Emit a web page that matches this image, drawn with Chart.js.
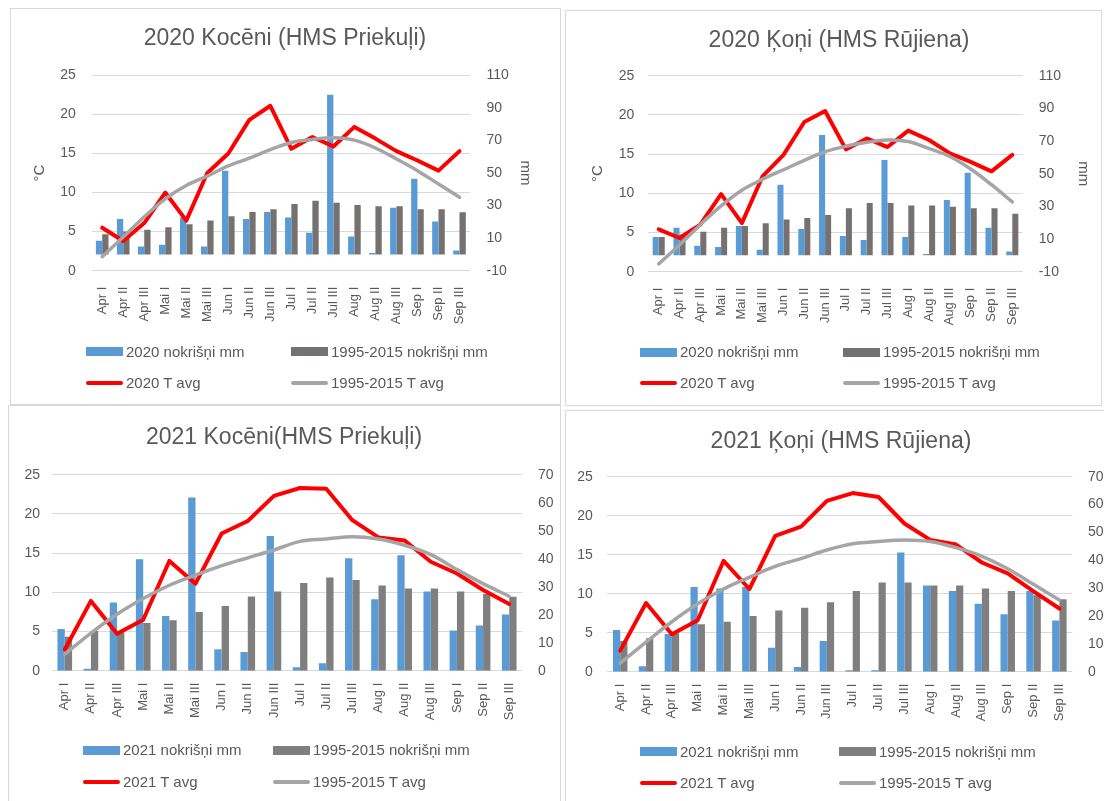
<!DOCTYPE html>
<html>
<head>
<meta charset="utf-8">
<script src="https://cdn.jsdelivr.net/npm/chart.js@4.4.1/dist/chart.umd.min.js"></script>
<style>
  body { margin: 0; width: 1104px; height: 801px; background: #fff; position: relative; overflow: hidden; font-family: "Liberation Sans", Arial, sans-serif; }
  .frame { position: absolute; border: 1px solid #d9d9d9; box-sizing: border-box; }
  canvas { position: absolute; }
  .lg { position: absolute; font-size: 15px; color: #595959; white-space: nowrap; line-height: 18px; }
  .sw { position: absolute; }
</style>
</head>
<body>
<div class="frame" style="left:10px;top:8px;width:551px;height:397px"></div>
<div class="frame" style="left:565px;top:10px;width:537px;height:396px"></div>
<div class="frame" style="left:8px;top:405px;width:553px;height:400px"></div>
<div class="frame" style="left:565px;top:410px;width:545px;height:395px"></div>
<canvas id="c1" width="550" height="396" style="left:10px;top:8px"></canvas>
<canvas id="c2" width="535" height="395" style="left:565px;top:10px"></canvas>
<canvas id="c3" width="552" height="396" style="left:8px;top:405px"></canvas>
<canvas id="c4" width="539" height="391" style="left:565px;top:410px"></canvas>
<div id="legends"></div>
<script>
// dekādes
const decades = ['Apr I', 'Apr II', 'Apr III', 'Mai I', 'Mai II', 'Mai III', 'Jun I', 'Jun II', 'Jun III',
                 'Jul I', 'Jul II', 'Jul III', 'Aug I', 'Aug II', 'Aug III', 'Sep I', 'Sep II', 'Sep III'];

const tempTicks = [0, 5, 10, 15, 20, 25];
const mmTicks2020 = [-10, 10, 30, 50, 70, 90, 110];
const mmTicks2021 = [0, 10, 20, 30, 40, 50, 60, 70];

// 2020 Kocēni (HMS Priekuļi)
const rainKoceni2020 = [8.4, 21.8, 4.9, 5.9, 22.7, 4.9, 51.4, 21.8, 26.1, 22.7, 13.3, 98.0, 11.0, 0.8, 28.6, 46.5, 20.2, 2.4];
const rainNormKoceni2020 = [12.4, 14.0, 15.1, 16.7, 18.6, 20.8, 23.5, 26.1, 27.8, 31.0, 32.9, 31.8, 30.4, 29.6, 29.6, 27.8, 27.8, 25.9];
const tempKoceni2020 = [5.5, 3.8, 6.1, 10.0, 6.4, 12.5, 15.0, 19.3, 21.1, 15.6, 17.1, 15.9, 18.4, 16.9, 15.3, 14.1, 12.8, 15.3];
const tempNormKoceni2020 = [1.8, 4.3, 6.9, 9.2, 10.9, 12.1, 13.4, 14.4, 15.5, 16.4, 16.8, 17.0, 16.7, 15.7, 14.3, 12.8, 11.1, 9.4];

// 2020 Ķoņi (HMS Rūjiena)
const rainKoni2020 = [11.2, 16.9, 5.9, 5.1, 18.0, 3.5, 43.3, 16.1, 73.7, 11.8, 9.4, 58.4, 11.2, 0.8, 33.9, 50.6, 16.9, 2.4];
const rainNormKoni2020 = [11.2, 12.8, 14.5, 16.9, 18.0, 19.6, 22.0, 22.9, 24.7, 28.8, 32.0, 32.0, 30.6, 30.6, 29.8, 28.8, 28.8, 25.5];
const tempKoni2020 = [5.4, 4.3, 6.0, 9.9, 6.2, 12.2, 14.9, 19.1, 20.5, 15.6, 17.0, 15.9, 18.0, 16.8, 15.1, 14.0, 12.8, 14.9];
const tempNormKoni2020 = [1.0, 3.4, 6.0, 8.4, 10.4, 11.8, 13.0, 14.2, 15.3, 16.0, 16.5, 16.8, 16.6, 15.7, 14.7, 13.1, 11.1, 8.9];

// 2021 Kocēni (HMS Priekuļi)
const rainKoceni2021 = [14.9, 0.7, 24.4, 39.8, 19.5, 61.9, 7.7, 6.7, 48.1, 1.2, 2.7, 40.2, 25.5, 41.2, 28.3, 14.4, 16.1, 20.1];
const rainNormKoceni2021 = [12.1, 14.2, 13.6, 17.0, 18.0, 21.0, 23.1, 26.5, 28.3, 31.3, 33.3, 32.4, 30.4, 29.4, 29.4, 28.3, 27.4, 26.4];
const tempKoceni2021 = [2.7, 8.9, 4.7, 6.5, 14.0, 11.1, 17.5, 19.1, 22.3, 23.3, 23.2, 19.2, 17.0, 16.6, 13.9, 12.4, 10.3, 8.5];
const tempNormKoceni2021 = [2.1, 4.8, 7.2, 9.2, 10.9, 12.2, 13.4, 14.4, 15.4, 16.5, 16.8, 17.1, 16.8, 16.0, 14.8, 12.9, 11.1, 9.5];

// 2021 Ķoņi (HMS Rūjiena)
const rainKoni2021 = [15.0, 2.0, 13.5, 30.4, 29.9, 30.4, 8.6, 1.7, 11.0, 0.5, 0.5, 42.8, 30.9, 29.0, 24.4, 20.6, 29.0, 18.4];
const rainNormKoni2021 = [11.0, 12.0, 13.8, 17.0, 17.9, 20.0, 22.0, 23.0, 24.9, 29.0, 32.0, 32.0, 30.9, 30.9, 29.9, 29.0, 27.4, 26.0];
const tempKoni2021 = [2.7, 8.8, 4.8, 6.6, 14.2, 10.6, 17.4, 18.6, 21.9, 22.9, 22.4, 19.0, 16.9, 16.3, 14.0, 12.6, 10.3, 8.1];
const tempNormKoni2021 = [1.1, 3.8, 6.4, 8.7, 10.6, 12.1, 13.5, 14.5, 15.6, 16.4, 16.7, 16.9, 16.7, 15.9, 14.8, 13.2, 11.2, 9.2];

const FONT = '"Liberation Sans", Arial, sans-serif';
const TXT = '#595959';

function setTicks(list) {
    return scale => { scale.ticks = list.map(v => ({ value: v })); };
}

function drawPanel(id, o) {
    const axisTitle = (text, pad) => text
        ? { display: true, text: text, color: TXT, font: { size: 15, family: FONT }, padding: { top: pad, bottom: 0 } }
        : { display: false };

    return new Chart(document.getElementById(id), {
        type: 'bar',
        data: {
            labels: decades,
            datasets: [
                {
                    type: 'line', label: o.year + ' T avg', data: o.temp, yAxisID: 'y',
                    borderColor: '#ff0000', borderWidth: 4, pointRadius: 0, tension: 0,
                    borderJoinStyle: 'round', borderCapStyle: 'round', order: 1
                },
                {
                    type: 'line', label: '1995-2015 T avg', data: o.tempNorm, yAxisID: 'y',
                    borderColor: '#a5a5a5', borderWidth: 3.5, pointRadius: 0, tension: 0.35,
                    borderJoinStyle: 'round', borderCapStyle: 'round', order: 0
                },
                {
                    label: o.year + ' nokrišņi mm', data: o.rain, yAxisID: 'y1',
                    backgroundColor: '#5b9bd5', barPercentage: 1, categoryPercentage: o.catPct, order: 2
                },
                {
                    label: '1995-2015 nokrišņi mm', data: o.rainNorm, yAxisID: 'y1',
                    backgroundColor: o.normBar, barPercentage: 1, categoryPercentage: o.catPct, order: 2
                }
            ]
        },
        options: {
            responsive: false,
            animation: false,
            devicePixelRatio: 1,
            layout: { padding: { left: o.padL, right: 0, top: 0, bottom: o.padB } },
            plugins: {
                legend: { display: false },
                tooltip: { enabled: false },
                title: {
                    display: true, text: o.title, color: TXT,
                    font: { size: 23, family: FONT, weight: 'normal' },
                    padding: { top: o.tPadT, bottom: o.tPadB }
                }
            },
            scales: {
                x: {
                    grid: { display: false, drawTicks: false },
                    border: { display: false },
                    ticks: { autoSkip: false, minRotation: 90, maxRotation: 90, color: TXT, font: { size: 13, family: FONT }, padding: o.xPad },
                    afterFit: s => { s.height = 60; }
                },
                y: {
                    position: 'left', min: 0, max: 25,
                    afterBuildTicks: setTicks(tempTicks),
                    grid: { color: '#d9d9d9', drawTicks: false },
                    border: { display: false },
                    ticks: { color: TXT, font: { size: 14, family: FONT }, padding: o.yPad },
                    title: axisTitle(o.cTitle, o.cPad),
                    afterFit: s => { s.width = o.yW; }
                },
                y1: {
                    position: 'right', min: o.mmTicks[0], max: o.mmTicks[o.mmTicks.length - 1],
                    afterBuildTicks: setTicks(o.mmTicks),
                    grid: { display: false, drawTicks: false },
                    border: { display: false },
                    ticks: { color: TXT, font: { size: 14, family: FONT }, padding: o.y1Pad },
                    title: axisTitle(o.mmTitle, o.mmPad),
                    afterFit: s => { s.width = o.y1W; }
                }
            }
        }
    });
}

drawPanel('c1', {
    year: '2020', title: '2020 Kocēni (HMS Priekuļi)',
    rain: rainKoceni2020, rainNorm: rainNormKoceni2020, temp: tempKoceni2020, tempNorm: tempNormKoceni2020,
    mmTicks: mmTicks2020, normBar: '#767171', catPct: 0.6,
    padL: 0, padB: 73.3, tPadT: 16.4, tPadB: 23.3, xPad: 16,
    yW: 81.7, yPad: 16, y1W: 90, y1Pad: 16.5,
    cTitle: '°C', cPad: 21, mmTitle: 'mm', mmPad: 26
});

drawPanel('c2', {
    year: '2020', title: '2020 Ķoņi (HMS Rūjiena)',
    rain: rainKoni2020, rainNorm: rainNormKoni2020, temp: tempKoni2020, tempNorm: tempNormKoni2020,
    mmTicks: mmTicks2020, normBar: '#767171', catPct: 0.58,
    padL: 13, padB: 73.3, tPadT: 16.4, tPadB: 21.7, xPad: 16,
    yW: 70.3, yPad: 14, y1W: 77.3, y1Pad: 16,
    cTitle: '°C', cPad: 11, mmTitle: 'mm', mmPad: 8
});

drawPanel('c3', {
    year: '2021', title: '2021 Kocēni(HMS Priekuļi)',
    rain: rainKoceni2021, rainNorm: rainNormKoceni2021, temp: tempKoceni2021, tempNorm: tempNormKoceni2021,
    mmTicks: mmTicks2021, normBar: '#7f7f7f', catPct: 0.56,
    padL: 0, padB: 70.3, tPadT: 18.4, tPadB: 23.7, xPad: 12,
    yW: 43.7, yPad: 11.7, y1W: 37.7, y1Pad: 15.7,
    cTitle: null, mmTitle: null
});

drawPanel('c4', {
    year: '2021', title: '2021 Ķoņi (HMS Rūjiena)',
    rain: rainKoni2021, rainNorm: rainNormKoni2021, temp: tempKoni2021, tempNorm: tempNormKoni2021,
    mmTicks: mmTicks2021, normBar: '#7f7f7f', catPct: 0.56,
    padL: 13, padB: 69.3, tPadT: 17.4, tPadB: 21.7, xPad: 12,
    yW: 29.3, yPad: 14.6, y1W: 31.7, y1Pad: 15.7,
    cTitle: null, mmTitle: null
});

// leģendas (HTML)
function legendItem(x, y, kind, color, text) {
    const box = document.createElement('div');
    box.className = 'sw';
    const h = kind === 'bar' ? 9 : 4;
    box.style.cssText = `left:${x}px;top:${y - h / 2}px;width:37px;height:${h}px;background:${color};` +
        (kind === 'line' ? 'border-radius:2px;' : '');
    const t = document.createElement('div');
    t.className = 'lg';
    t.style.left = (x + 40) + 'px';
    t.style.top = (y - 9) + 'px';
    t.textContent = text;
    const host = document.getElementById('legends');
    host.appendChild(box);
    host.appendChild(t);
}

function legendBlock(x1, x2, y1, y2, year, normBar) {
    legendItem(x1, y1, 'bar', '#5b9bd5', year + ' nokrišņi mm');
    legendItem(x2, y1, 'bar', normBar, '1995-2015 nokrišņi mm');
    legendItem(x1, y2, 'line', '#ff0000', year + ' T avg');
    legendItem(x2, y2, 'line', '#a5a5a5', '1995-2015 T avg');
}

legendBlock(86, 291, 351.7, 383.3, '2020', '#767171');
legendBlock(640, 843, 352.3, 383.3, '2020', '#767171');
legendBlock(83, 273, 750, 781.7, '2021', '#7f7f7f');
legendBlock(640, 839, 751.7, 783.3, '2021', '#7f7f7f');
</script>
</body>
</html>
